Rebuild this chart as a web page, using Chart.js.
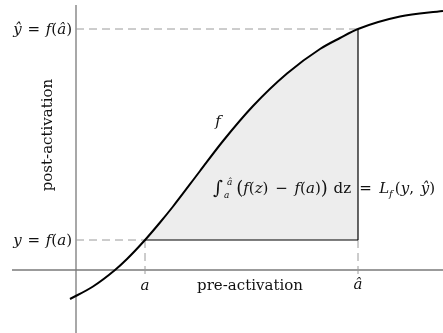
<!DOCTYPE html>
<html><head><meta charset="utf-8">
<script src="https://cdn.jsdelivr.net/npm/chart.js@4/dist/chart.umd.min.js"></script>
<style>html,body{margin:0;padding:0;background:#fff;overflow:hidden}#wrap{width:443px;height:333px;position:relative}</style>
</head><body><div id="wrap"><canvas id="c"></canvas></div>
<script>
// activation curve f (x: pre-activation, y: post-activation)
const curveX = [-0.12, 0.34, 0.78, 1.02, 1.38, 1.68, 1.94, 2.48, 2.94, 3.54, 4.22, 4.88, 5.28, 5.64, 6.48, 7.34];
const curveY = [-0.58, -0.33, 0.00, 0.22, 0.60, 0.95, 1.27, 1.98, 2.58, 3.28, 3.93, 4.42, 4.64, 4.82, 5.07, 5.18];
// marked points
const aVal = 1.38, fA = 0.60;
const aHat = 5.64, fAHat = 4.82;
const xTickLabels = ['a', 'â'];
const yTickLabels = ['y = f(a)', 'ŷ = f(â)'];
const xAxisTitle = 'pre-activation';
const yAxisTitle = 'post-activation';
const curveLabel = 'f';

const curvePts = curveX.map((x, i) => ({x, y: curveY[i]}));
const fillPts = curvePts.filter(p => p.x >= aVal - 1e-9 && p.x <= aHat + 1e-9);

const AX = '#7a7a7a', DASH = '#9a9a9a';
const SERIF = '"DejaVu Serif","Liberation Serif",serif';

function seg(t, it, size, dy, o) { return Object.assign({t, it: !!it, size: size || 15, dy: dy || 0}, o || {}); }
function drawRich(ctx, x, y, segs, align) {
  let w = 0;
  segs.forEach(s => { ctx.font = (s.it ? 'italic ' : '') + s.size + 'px ' + SERIF; s.w = ctx.measureText(s.t).width + (s.pad || 0); if (!s.stack) w += s.w; });
  let cx = align === 'right' ? x - w : align === 'center' ? x - w / 2 : x;
  ctx.textBaseline = 'alphabetic'; ctx.textAlign = 'left';
  segs.forEach(s => {
    ctx.font = (s.it ? 'italic ' : '') + s.size + 'px ' + SERIF;
    ctx.fillText(s.t, cx + (s.dx || 0), y + s.dy);
    if (!s.stack) cx += s.w;
  });
}

const labelsPlugin = {
  id: 'labels',
  afterDatasetsDraw(chart) {
    const ctx = chart.ctx, xs = chart.scales.x, ys = chart.scales.y;
    ctx.save();
    ctx.fillStyle = '#111';
    const yAxisPx = xs.getPixelForValue(0);
    // y tick labels
    drawRich(ctx, yAxisPx - 4, ys.getPixelForValue(fA) + 5,
      [seg('y', 1), seg(' = ', 0, 15, 0, {pad: 2, dx: 1}), seg('f', 1), seg('('), seg('a', 1), seg(')')], 'right');
    drawRich(ctx, yAxisPx - 4, ys.getPixelForValue(fAHat) + 5,
      [seg('ŷ', 1), seg(' = ', 0, 15, 0, {pad: 2, dx: 1}), seg('f', 1), seg('('), seg('â', 1), seg(')')], 'right');
    // x tick labels
    const xAxisPy = ys.getPixelForValue(0);
    drawRich(ctx, xs.getPixelForValue(aVal), xAxisPy + 20, [seg(xTickLabels[0], 1)], 'center');
    drawRich(ctx, xs.getPixelForValue(aHat), xAxisPy + 19, [seg(xTickLabels[1], 1)], 'center');
    // axis titles
    drawRich(ctx, 250, xAxisPy + 20, [seg(xAxisTitle, 0, 15)], 'center');
    ctx.save();
    ctx.translate(52, 135);
    ctx.rotate(-Math.PI / 2);
    drawRich(ctx, 0, 0, [seg(yAxisTitle, 0, 15)], 'center');
    ctx.restore();
    // curve label
    drawRich(ctx, 218, 126, [seg(curveLabel, 1, 15)], 'center');
    // integral
    const ix = 213, iy = 193;
    drawRich(ctx, ix, iy, [seg('∫', 0, 19, 1), seg('a', 1, 9, 5, {stack: true, dx: 1}), seg('â', 1, 9, -8, {dx: 4, pad: 8}),
      seg('(', 0, 18, 1), seg('f', 1), seg('('), seg('z', 1), seg(')'), seg(' − ', 0, 15, 0, {pad: 4, dx: 2}),
      seg('f', 1), seg('('), seg('a', 1), seg(')'), seg(')', 0, 18, 1, {pad: 1}), seg(' dz', 0, 15, 0, {pad: 1}), seg(' = ', 0, 15, 0, {pad: 5, dx: 2.5}),
      seg('L', 1), seg('f', 1, 10, 4, {pad: 2}),
      seg('('), seg('y', 1), seg(', ', 0, 15, 0, {pad: 2}), seg('ŷ', 1), seg(')')], 'left');
    ctx.restore();
  }
};

new Chart(document.getElementById('c'), {
  type: 'line',
  data: {
    datasets: [
      { data: curvePts, borderColor: '#000', borderWidth: 2, pointRadius: 0, cubicInterpolationMode: 'monotone', fill: false, order: 0 },
      { data: fillPts, borderColor: 'rgba(0,0,0,0)', borderWidth: 0, pointRadius: 0, cubicInterpolationMode: 'monotone',
        fill: {value: fA}, backgroundColor: '#ededed', order: 10 },
      // axes
      { data: [{x: -1.28, y: 0}, {x: 7.34, y: 0}], borderColor: AX, borderWidth: 1.3, pointRadius: 0, order: 5 },
      { data: [{x: 0, y: 5.3}, {x: 0, y: -1.26}], borderColor: AX, borderWidth: 1.3, pointRadius: 0, order: 5 },
      // dashed guides
      { data: [{x: 0, y: fA}, {x: aVal, y: fA}], borderColor: DASH, borderWidth: 1, borderDash: [8, 5], pointRadius: 0, order: 4 },
      { data: [{x: 0, y: fAHat}, {x: aHat, y: fAHat}], borderColor: DASH, borderWidth: 1, borderDash: [8, 5], pointRadius: 0, order: 4 },
      { data: [{x: aVal, y: fA}, {x: aVal, y: -0.1}], borderColor: DASH, borderWidth: 1, borderDash: [8, 5], pointRadius: 0, order: 4 },
      { data: [{x: aHat, y: fA}, {x: aHat, y: -0.1}], borderColor: DASH, borderWidth: 1, borderDash: [8, 5], pointRadius: 0, order: 4 },
      // solid region edges
      { data: [{x: aVal, y: fA}, {x: aHat, y: fA}], borderColor: '#000', borderWidth: 1.2, pointRadius: 0, order: 3 },
      { data: [{x: aHat, y: fA}, {x: aHat, y: fAHat}], borderColor: '#000', borderWidth: 1.2, pointRadius: 0, order: 3 }
    ]
  },
  options: {
    responsive: true, maintainAspectRatio: false, animation: false,
    layout: {padding: 0},
    plugins: {legend: {display: false}, tooltip: {enabled: false}},
    scales: {
      x: {type: 'linear', display: false, min: -1.52, max: 7.34},
      y: {type: 'linear', display: false, min: -1.26, max: 5.4}
    }
  },
  plugins: [labelsPlugin]
});
</script>
</body></html>
